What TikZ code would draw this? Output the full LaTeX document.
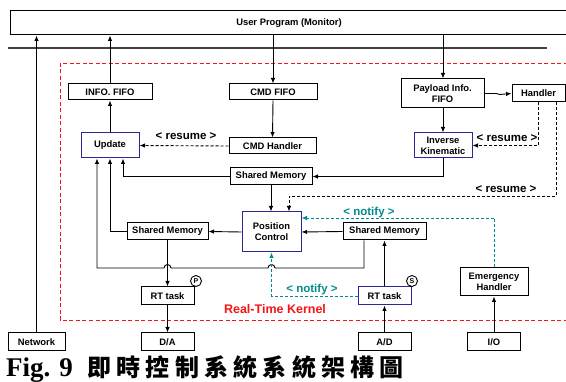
\documentclass[tikz,border=0pt]{standalone}
\usepackage{fontspec}
\setmainfont{Liberation Sans}
\newfontfamily\capfont{Liberation Serif}
\newfontfamily\cjk{Noto Sans CJK TC}[LetterSpace=22]
\usetikzlibrary{arrows.meta}
\definecolor{kernelred}{RGB}{245,20,20}
\definecolor{notifyteal}{RGB}{0,140,140}
\definecolor{taskblue}{RGB}{40,40,150}
\tikzset{
  blk/.style={draw, line width=1pt, inner sep=0pt, align=center,
    font=\fontsize{9.4}{10.8}\selectfont\bfseries},
  blublk/.style={blk, draw=taskblue},
  arr/.style={-{Latex[length=5.5pt,width=4.5pt]}, line width=0.9pt},
  resume/.style={arr, dash pattern=on 3pt off 2pt},
  notify/.style={arr, notifyteal, dash pattern=on 3pt off 2pt},
  tag/.style={font=\fontsize{11.5}{12}\selectfont\bfseries},
  mark circle/.style={circle, draw, line width=0.9pt, inner sep=0pt,
    minimum size=11pt, font=\fontsize{7}{7}\selectfont\bfseries}
}
\begin{document}
\begin{tikzpicture}[x=1pt, y=-1pt]
  \useasboundingbox (0,0) rectangle (566,382);
  % monitor and kernel frame
  \node[blk, minimum width=558pt, minimum height=24pt] (user) at (289,23) {User Program (Monitor)};
  \draw[line width=1.2pt, black!75] (8,48) -- (547,48);
  \draw[kernelred, line width=0.9pt, dash pattern=on 4pt off 2.5pt] (60,63) rectangle (580,320);
  \node[font=\fontsize{12.5}{13}\selectfont\bfseries, text=kernelred] (kernel) at (275,309) {Real-Time Kernel};

  % blocks
  \node[blk, minimum width=84pt, minimum height=16pt] (info) at (110,92) {INFO. FIFO};
  \node[blk, minimum width=88pt, minimum height=16pt] (cmdfifo) at (273,92) {CMD FIFO};
  \node[blk, minimum width=83pt, minimum height=29pt] (payload) at (442.5,93.5) {Payload Info.\\FIFO};
  \node[blk, minimum width=53pt, minimum height=17pt] (handler) at (538.5,93.5) {Handler};
  \node[blublk, minimum width=58pt, minimum height=25pt] (update) at (110,145.5) {Update};
  \node[blk, minimum width=87pt, minimum height=16pt] (cmdh) at (272.5,146) {CMD Handler};
  \node[blublk, minimum width=58pt, minimum height=25pt] (ik) at (443,145.5) {Inverse\\Kinematic};
  \node[blk, minimum width=82pt, minimum height=17pt] (smtop) at (271,176.5) {Shared Memory};
  \node[blublk, minimum width=59pt, minimum height=40pt] (pc) at (271.5,232) {Position\\Control};
  \node[blk, minimum width=81pt, minimum height=17pt] (smleft) at (167.5,231.5) {Shared Memory};
  \node[blk, minimum width=83pt, minimum height=17pt] (smright) at (384.5,231.5) {Shared Memory};
  \node[blk, minimum width=68pt, minimum height=28pt] (eh) at (494,282) {Emergency\\Handler};
  \node[blk, minimum width=53pt, minimum height=18pt] (rtp) at (167.5,296) {RT task};
  \node[blublk, minimum width=53pt, minimum height=18pt] (rts) at (384.5,296) {RT task};
  \node[mark circle] (ptag) at (196,281) {P};
  \node[mark circle] (stag) at (412,281) {S};
  \node[blk, minimum width=57pt, minimum height=18pt] (network) at (36.5,342) {Network};
  \node[blk, minimum width=53pt, minimum height=18pt] (da) at (167.5,342) {D/A};
  \node[blk, minimum width=53pt, minimum height=18pt] (ad) at (384.5,342) {A/D};
  \node[blk, minimum width=53pt, minimum height=18pt] (io) at (494,342) {I/O};

  % data paths
  \draw[arr] (network.north) -- (network.north |- user.south);
  \draw[arr] (info.north) -- (info.north |- user.south);
  \draw[arr] (cmdfifo.north |- user.south) -- (cmdfifo.north);
  \draw[arr] ([xshift=0.5pt]payload.north |- user.south) -- ([xshift=0.5pt]payload.north);
  \draw[arr] (payload.east) -- ++(12,0) -- ++(3,1) -- (handler.west);
  \draw[arr] (cmdfifo.south) -- (cmdh.north);
  \draw[arr] (update.north) -- (info.south);
  \draw[arr] ([xshift=0.5pt]payload.south) -- (ik.north);
  \draw[arr] (ik.south) |- (smtop.east);
  \draw[arr] (smtop.west) -| ([xshift=13pt]update.south);
  \draw[arr] (smtop.south) -- (smtop.south |- pc.north);
  \draw[arr] (pc.west) -- (smleft.east);
  \draw[arr] (smright.west) -- (pc.east);
  \draw[arr] (smleft.west) -| (update.south);
  \draw[arr] ([xshift=-20.5pt]smright.south) |- (275,268)
    arc[start angle=0, end angle=180, radius=3.5pt] -- (171,268)
    arc[start angle=0, end angle=180, radius=3.5pt] -- (97,268) -- ([xshift=-13pt]update.south);
  \draw[arr] (smleft.south) -- (rtp.north);
  \draw[arr] (rtp.south) -- (da.north);
  \draw[arr] (ad.north) -- (rts.south);
  \draw[arr] (rts.north) -- (smright.south);
  \draw[arr] (io.north) -- (eh.south);

  % resume signals
  \coordinate (rsdown) at (289,196);
  \draw[resume] (cmdh.west) -- (update.east);
  \node[tag] (res1) at (186,136) {< resume >};
  \draw[resume] (handler.south) |- (ik.east);
  \node[tag] (res2) at (507,138) {< resume >};
  \draw[resume] ([xshift=17.5pt]handler.south) |- (rsdown) -- (rsdown |- pc.north);
  \node[tag] (res3) at (506,189) {< resume >};

  % notify signals
  \draw[notify] (eh.north) |- ([yshift=14pt]pc.east);
  \node[tag, text=notifyteal] (nt1) at (369,213) {< notify >};
  \draw[notify] (rts.west) -| (pc.south);
  \node[tag, text=notifyteal] (nt2) at (312,290) {< notify >};

  % caption
  \node[anchor=base west, inner sep=0pt] (fig) at (6,377) {\capfont\bfseries\fontsize{27}{30}\selectfont Fig. 9};
  \node[anchor=base west, inner sep=0pt] (title) at (87,377) {\cjk\bfseries\fontsize{24}{26}\selectfont 即時控制系統系統架構圖};
\end{tikzpicture}
\end{document}
